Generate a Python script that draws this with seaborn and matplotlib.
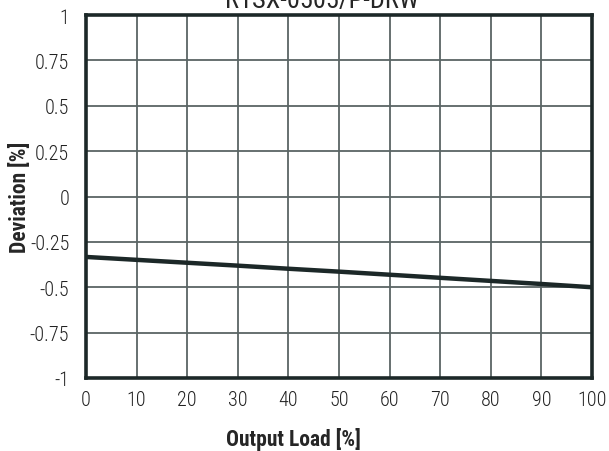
import matplotlib
matplotlib.use("Agg")
import matplotlib.pyplot as plt
import seaborn as sns
import pandas as pd

# Data
output_load = [0, 10, 20, 30, 40, 50, 60, 70, 80, 90, 100]
deviation = [-0.333, -0.349, -0.365, -0.381, -0.398, -0.414, -0.431, -0.448, -0.465, -0.482, -0.500]
x_ticks = [0, 10, 20, 30, 40, 50, 60, 70, 80, 90, 100]
y_ticks = [-1, -0.75, -0.5, -0.25, 0, 0.25, 0.5, 0.75, 1]
y_tick_labels = ["-1", "-0.75", "-0.5", "-0.25", "0", "0.25", "0.5", "0.75", "1"]

df = pd.DataFrame({"Output Load": output_load, "Deviation": deviation})

sns.set_style("white")
plt.rcParams["font.family"] = ["Roboto Condensed", "Roboto", "DejaVu Sans"]

dark = "#1c2828"
fig = plt.figure(figsize=(6.09, 4.52), dpi=100)
ax = fig.add_axes([86 / 609, 1 - 379 / 452, 506 / 609, 363 / 452])

sns.lineplot(x="Output Load", y="Deviation", data=df, ax=ax, color=dark, linewidth=3.2)

ax.set_xlim(0, 100)
ax.set_ylim(-1, 1)
ax.set_xticks(x_ticks)
ax.set_yticks(y_ticks)
ax.set_yticklabels(y_tick_labels)
ax.grid(True, color="#5a6565", linewidth=1.3)
for side in ax.spines.values():
    side.set_color(dark)
    side.set_linewidth(2.6)
ax.tick_params(axis="x", length=0, labelsize=14.5, colors="#222222", pad=9)
ax.tick_params(axis="y", length=0, labelsize=14.5, colors="#222222", pad=12)
for lbl in ax.get_xticklabels() + ax.get_yticklabels():
    lbl.set_fontweight("light")

ax.set_xlabel("Output Load [%]", fontsize=15.5, fontweight="bold")
ax.xaxis.set_label_coords(0.41, -0.136)
ax.set_ylabel("Deviation [%]", fontsize=15.5, fontweight="bold")
ax.yaxis.set_label_coords(-0.109, 0.5)
# title sits mostly above the canvas, as in the reference
ax.set_title("R1SX-0505/P-DRW", fontsize=19, x=0.466, y=1.0)

fig.savefig("out.png", dpi=100)
